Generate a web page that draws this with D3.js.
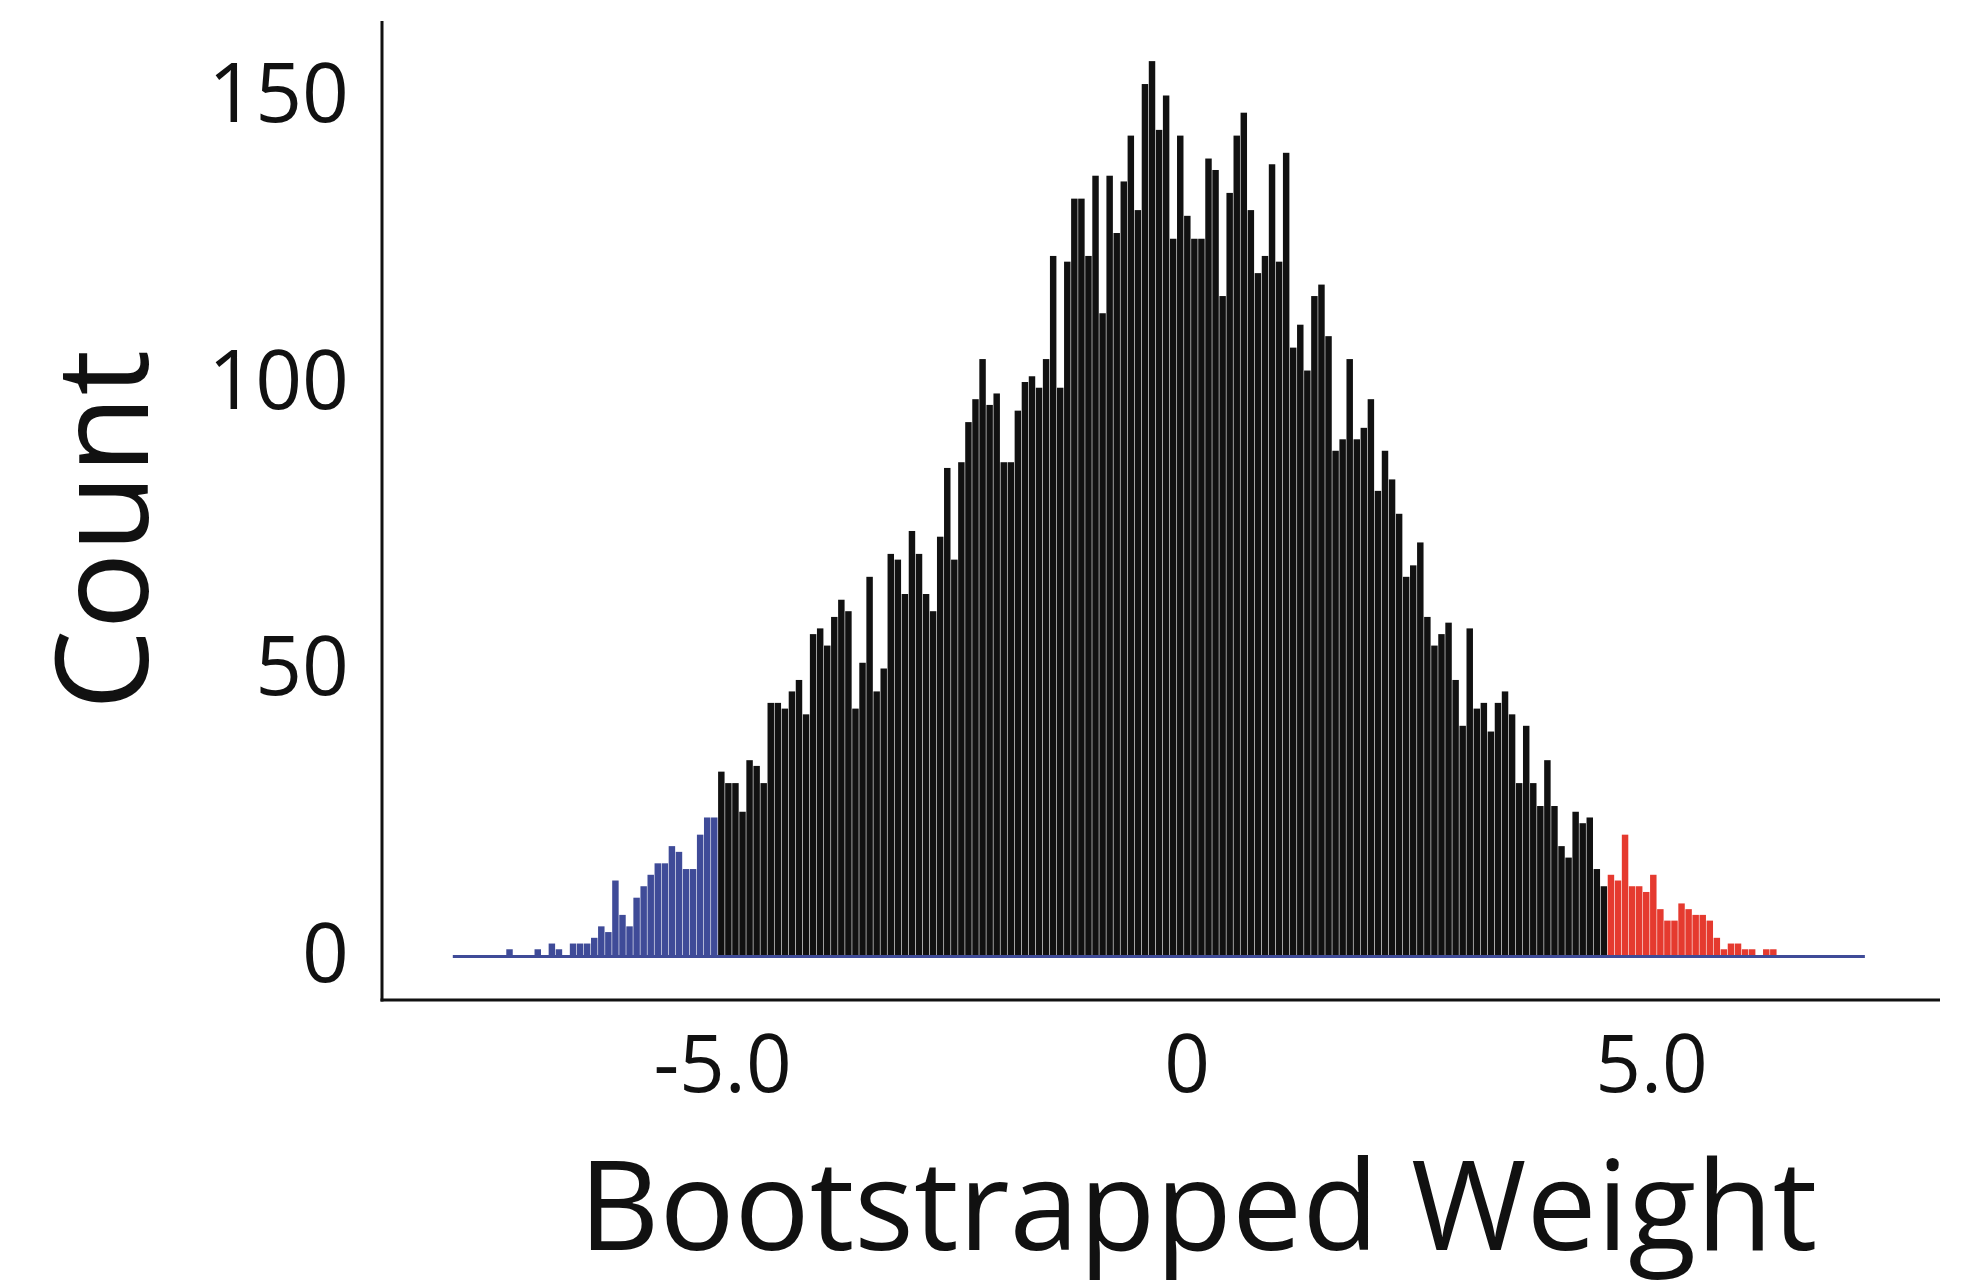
<!DOCTYPE html>
<html>
<head>
<meta charset="utf-8">
<script src="https://cdn.jsdelivr.net/npm/d3@7"></script>
<style>
  html, body { margin: 0; padding: 0; background: #ffffff; }
  svg { display: block; }
  text { font-family: "Open Sans", "Noto Sans", sans-serif; fill: #111; }
</style>
</head>
<body>
<svg id="chart" width="1961" height="1288"></svg>
<script>
// ---- data ----
const binStart = -7.93;
const binWidth = 0.076;
const counts = [
  0,0,0,0,0,0,0,0,1,0, 0,0,1,0,2,1,0,2,2,2,
  3,5,4,13,7,5,10,12,14,16, 16,19,18,15,15,21,24,24,32,30,
  30,25,34,33,30,44,44,43,46,48, 42,56,57,54,59,62,60,43,51,66,
  46,50,70,69,63,74,70,63,60,73, 85,69,86,93,97,104,96,98,86,86,
  95,100,101,99,104,122,99,121,132,132, 122,136,112,136,126,135,143,130,152,156,
  144,150,125,143,129,125,125,139,137,115, 133,143,147,130,119,122,138,121,140,106,
  110,102,115,117,108,88,90,104,90,92, 97,81,88,83,77,66,68,72,59,54,
  56,58,48,40,57,43,44,39,44,46, 42,30,40,30,26,34,26,19,17,25,
  23,24,15,12,14,13,21,12,12,11, 14,8,6,6,9,8,7,7,6,3,
  1,2,2,1,1,0,1,1,0,0, 0,0,0,0,0,0,0,0,0,0
];
const lowerCI = -5.04;
const upperCI = 4.53;
const xTicks = [-5, 0, 5];
const xTickLabels = ["-5.0", "0", "5.0"];
const yTicks = [0, 50, 100, 150];
const xTitle = "Bootstrapped Weight";
const yTitle = "Count";

// ---- layout ----
const svg = d3.select("#chart");
const x = d3.scaleLinear().domain([-5, 5]).range([722, 1651]);
const y = d3.scaleLinear().domain([0, 150]).range([955, 95.5]);
const axisX0 = 382, axisY0 = 1000, axisTop = 21, axisRight = 1940;

const colBlue = "#3f4b98", colRed = "#e53a2f", colBlack = "#111111";

const bins = counts.map((c, i) => ({
  x0: binStart + i * binWidth,
  x1: binStart + (i + 1) * binWidth,
  count: c
}));
function binColor(d) {
  const m = (d.x0 + d.x1) / 2;
  if (m < lowerCI) return colBlue;
  if (m > upperCI) return colRed;
  return colBlack;
}

// bars
svg.append("g").selectAll("rect")
  .data(bins.filter(d => d.count > 0))
  .join("rect")
  .attr("x", d => x(d.x0))
  .attr("width", d => Math.max(0, x(d.x1) - x(d.x0) - 0.6))
  .attr("y", d => y(d.count))
  .attr("height", d => y(0) - y(d.count))
  .attr("fill", binColor);

// blue baseline under the histogram
svg.append("line")
  .attr("x1", x(bins[0].x0) + 3)
  .attr("x2", x(bins[bins.length - 1].x1) + 3)
  .attr("y1", y(0) + 1.5)
  .attr("y2", y(0) + 1.5)
  .attr("stroke", colBlue)
  .attr("stroke-width", 3);

// axis lines
svg.append("line")
  .attr("x1", axisX0).attr("x2", axisX0)
  .attr("y1", axisTop).attr("y2", axisY0 + 1.5)
  .attr("stroke", "#111").attr("stroke-width", 3);
svg.append("line")
  .attr("x1", axisX0 - 1.5).attr("x2", axisRight)
  .attr("y1", axisY0).attr("y2", axisY0)
  .attr("stroke", "#111").attr("stroke-width", 3);

// y tick labels
const gy = svg.append("g")
  .attr("transform", `translate(${axisX0},0)`)
  .call(d3.axisLeft(y).tickValues(yTicks).tickSize(0).tickPadding(33).tickFormat(d3.format("d")));
gy.select(".domain").remove();
gy.selectAll("text")
  .style("font-family", '"Open Sans", "Noto Sans", sans-serif')
  .style("font-size", "82px")
  .attr("fill", "#111");

// x tick labels
const gx = svg.append("g")
  .attr("transform", `translate(0,${axisY0})`)
  .call(d3.axisBottom(x).tickValues(xTicks).tickSize(0).tickPadding(35)
    .tickFormat((d, i) => xTickLabels[i]));
gx.select(".domain").remove();
gx.selectAll("text")
  .style("font-family", '"Open Sans", "Noto Sans", sans-serif')
  .style("font-size", "80px")
  .attr("fill", "#111");

// titles
svg.append("text")
  .attr("x", 1198).attr("y", 1250)
  .attr("text-anchor", "middle")
  .style("font-size", "125px")
  .text(xTitle);
svg.append("text")
  .attr("transform", "translate(148,530) rotate(-90)")
  .attr("text-anchor", "middle")
  .style("font-size", "128px")
  .text(yTitle);
</script>
</body>
</html>
